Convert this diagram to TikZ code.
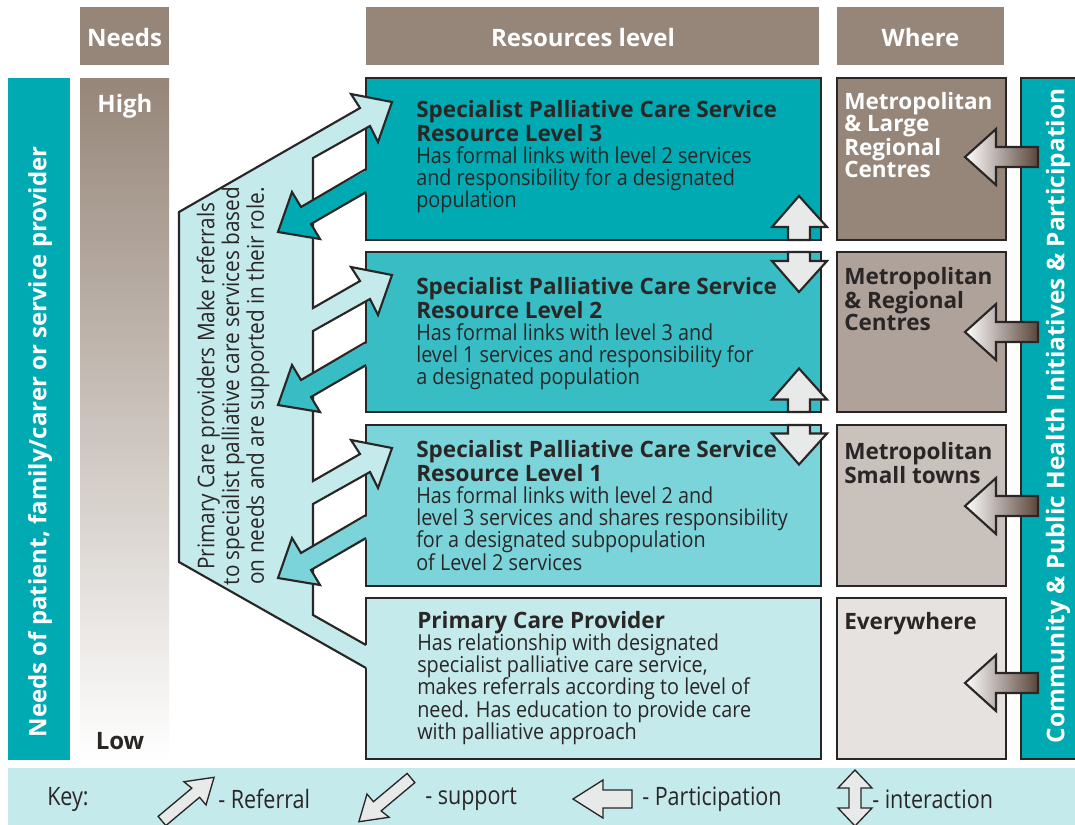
\documentclass[tikz,border=0pt]{standalone}
\usepackage{fontspec}
\setmainfont{Open Sans}
\newfontfamily\bodyfam{Open Sans}[FakeStretch=0.9]
\newfontfamily\keyfam{Open Sans}[FakeStretch=0.85]
\definecolor{hdr}{HTML}{968679}
\definecolor{tealA}{HTML}{00AAB2}
\definecolor{tealB}{HTML}{38BDC5}
\definecolor{tealC}{HTML}{7AD4DA}
\definecolor{lightc}{HTML}{C4EAEC}
\definecolor{whB}{HTML}{AEA29A}
\definecolor{whC}{HTML}{C9C1BC}
\definecolor{whD}{HTML}{E6E2E0}
\definecolor{ink}{HTML}{2A2626}
\definecolor{igray}{HTML}{E8E9E9}
\definecolor{pdark}{HTML}{5A463A}
\newcommand{\ttlf}{\fontsize{16.9}{16.65}\selectfont\bfseries}
\newcommand{\bdyf}{\bodyfam\fontsize{16.5}{16.65}\selectfont}
\newcommand{\whf}{\fontsize{16.9}{16.7}\selectfont\bfseries}
\begin{document}
\begin{tikzpicture}[x=0.75pt,y=-0.75pt,
  bx/.style={draw=ink,line width=1.6pt,line join=miter},
  hdrtext/.style={text=white,font=\fontsize{18}{20}\selectfont\bfseries,inner sep=0},
  txt/.style={align=left,inner sep=0,text=ink,font=\fontsize{16.9}{16.65}\selectfont},
  wtxt/.style={align=left,inner sep=0,text=ink,font=\fontsize{16.9}{16.7}\selectfont},
  sidetext/.style={text=white,rotate=90,inner sep=0},
  keytext/.style={text=ink,font=\keyfam\fontsize{19}{20}\selectfont,anchor=west,inner sep=0},
  keyicon/.style={draw=ink,line width=1pt,fill=igray,line join=miter},
  inter/.style={draw=ink,line width=1.6pt,fill=igray,line join=miter},
  part/.style={draw=ink,line width=1.6pt,left color=white,right color=pdark,line join=miter}]
\useasboundingbox (0,0) rectangle (1075,825);
\fill[white] (0,0) rectangle (1075,825);

% headers
\fill[hdr] (80,7) rectangle (169,65);
\node[hdrtext] (needsH) at (124.5,37) {Needs};
\fill[hdr] (366,7) rectangle (819,65);
\node[hdrtext] (resH) at (583,37) {Resources level};
\fill[hdr] (837,7) rectangle (1004,65);
\node[hdrtext] (whereH) at (920.5,37) {Where};

% left bars
\fill[tealA] (8,78) rectangle (70,760);
\node[sidetext,font=\fontsize{18}{20}\selectfont\bfseries] (needsTxt) at (40,442) {Needs of patient, family/carer or service provider};
\shade[top color=hdr,bottom color=white] (80,78) rectangle (169,760);
\node[hdrtext] (high) at (125,106) {High};
\node[hdrtext,text=ink] (low) at (120,741) {Low};

% resource boxes
\draw[bx,fill=tealA] (366,78) rectangle (821,240);
\draw[bx,fill=tealB] (366,252) rectangle (821,412);
\draw[bx,fill=tealC] (366,425) rectangle (821,586);
\draw[bx,fill=lightc] (366,598) rectangle (821,759);

% where boxes
\draw[bx,fill=hdr] (837,78) rectangle (1006,240);
\draw[bx,fill=whB] (837,252) rectangle (1006,412);
\draw[bx,fill=whC] (837,425) rectangle (1006,586);
\draw[bx,fill=whD] (837,598) rectangle (1006,759);

% right bar
\draw[bx,fill=tealA] (1021,78) rectangle (1090,759);
\node[sidetext,font=\fontsize{18.3}{20}\selectfont\bfseries] (commTxt) at (1058,416) {Community \& Public Health Initiatives \& Participation};

% trunk with referral arrows
\fill[lightc] (366,668) -- (179,562) -- (179,212) -- (360,108) -- (351,94) -- (392,102) -- (378,142) -- (370,126) -- (313,158)
  -- (313,308) -- (360,281) -- (351,267) -- (392,275) -- (378,315) -- (370,299) -- (313,331)
  -- (313,481) -- (360,454) -- (351,440) -- (392,448) -- (378,488) -- (370,472) -- (313,504)
  -- (313,615) -- (366,645) -- (369,645) -- (369,668) -- cycle;
\draw[bx] (366,668) -- (179,562) -- (179,212) -- (360,108) -- (351,94) -- (392,102) -- (378,142) -- (370,126) -- (313,158)
  -- (313,308) -- (360,281) -- (351,267) -- (392,275) -- (378,315) -- (370,299) -- (313,331)
  -- (313,481) -- (360,454) -- (351,440) -- (392,448) -- (378,488) -- (370,472) -- (313,504)
  -- (313,615) -- (366,645);

% support arrows
\foreach \k/\c in {0/tealA,173/tealB,346/tealC}{
  \fill[\c] (369,169+\k) -- (301,207+\k) -- (292,192+\k) -- (278,232+\k) -- (320,239+\k) -- (311,224+\k) -- (369,192+\k) -- cycle;
  \draw[bx] (366,169+\k) -- (301,207+\k) -- (292,192+\k) -- (278,232+\k) -- (320,239+\k) -- (311,224+\k) -- (366,192+\k);
}

% trunk text
\node[txt,align=center,rotate=90,font=\bodyfam\fontsize{17.3}{18.6}\selectfont] (trunkTxt) at (233,386)
  {Primary Care providers Make referrals\\to specialist palliative care services based\\on needs and are supported in their role.};

% box texts
\node[txt,anchor=north west] (t3) at (416,100) {\ttlf Specialist Palliative Care Service\\\ttlf Resource Level 3\\\bdyf Has formal links with level 2 services\\\bdyf and responsibility for a designated\\\bdyf population};
\node[txt,anchor=north west] (t2) at (416,277) {\ttlf Specialist Palliative Care Service\\\ttlf Resource Level 2\\\bdyf Has formal links with level 3 and\\\bdyf level 1 services and responsibility for\\\bdyf a designated population};
\node[txt,anchor=north west] (t1) at (416,440) {\ttlf Specialist Palliative Care Service\\\ttlf Resource Level 1\\\bdyf Has formal links with level 2 and\\\bdyf level 3 services and shares responsibility\\\bdyf for a designated subpopulation\\\bdyf of Level 2 services};
\node[txt,anchor=north west] (t0) at (417,611) {\ttlf Primary Care Provider\\\bdyf Has relationship with designated\\\bdyf specialist palliative care service,\\\bdyf makes referrals according to level of\\\bdyf need. Has education to provide care\\\bdyf with palliative approach};

% where texts
\node[wtxt,anchor=north west,text=white] (w1) at (844,92) {\whf Metropolitan\\\whf \& Large\\\whf Regional\\\whf Centres};
\node[wtxt,anchor=north west] (w2) at (844,267) {\whf Metropolitan\\\whf \& Regional\\\whf Centres};
\node[wtxt,anchor=north west] (w3) at (844,442) {\whf Metropolitan\\\whf Small towns};
\node[wtxt,anchor=north west] (w4) at (844,612) {\whf Everywhere};

% interaction arrows
\foreach \m/\a/\b in {246/240/252,418.5/412/425}{
  \draw[inter] (788,\a) -- (788,\m-19) -- (772,\m-19) -- (799,\m-50) -- (827,\m-19) -- (810,\m-19) -- (810,\a) -- cycle;
  \draw[inter] (788,\b) -- (788,\m+15) -- (772,\m+15) -- (799,\m+46) -- (827,\m+15) -- (810,\m+15) -- (810,\b) -- cycle;
}

% participation arrows
\foreach \c in {157,332,506,683}{
  \draw[part] (965,\c) -- (996,\c-28) -- (996,\c-10) -- (1038,\c-10) -- (1038,\c+10) -- (996,\c+10) -- (996,\c+28) -- cycle;
}

% key
\fill[lightc] (8,768) rectangle (1075,825);
\node[keytext] (keyK) at (47,799) {Key:};
\begin{scope}[shift={(162,821)},rotate=40]
  \draw[keyicon] (0,-6) -- (44,-6) -- (42,-16) -- (68,0) -- (44,16) -- (44,6) -- (0,6) -- cycle;
\end{scope}
\node[keytext] (keyR) at (218,799) {- Referral};
\begin{scope}[shift={(411,778)},rotate=220]
  \draw[keyicon] (0,-6) -- (44,-6) -- (42,-16) -- (68,0) -- (44,16) -- (44,6) -- (0,6) -- cycle;
\end{scope}
\node[keytext] (keyS) at (425,799) {- support};
\draw[keyicon] (573,799) -- (603,780) -- (603,790) -- (632,790) -- (632,808) -- (603,808) -- (603,818) -- cycle;
\node[keytext] (keyP) at (642,799) {- Participation};
\draw[keyicon] (855,770) -- (872,788) -- (861,788) -- (861,808) -- (872,808) -- (855,826) -- (838,808) -- (849,808) -- (849,788) -- (838,788) -- cycle;
\node[keytext] (keyI) at (872,799) {- interaction};
\end{tikzpicture}
\end{document}
